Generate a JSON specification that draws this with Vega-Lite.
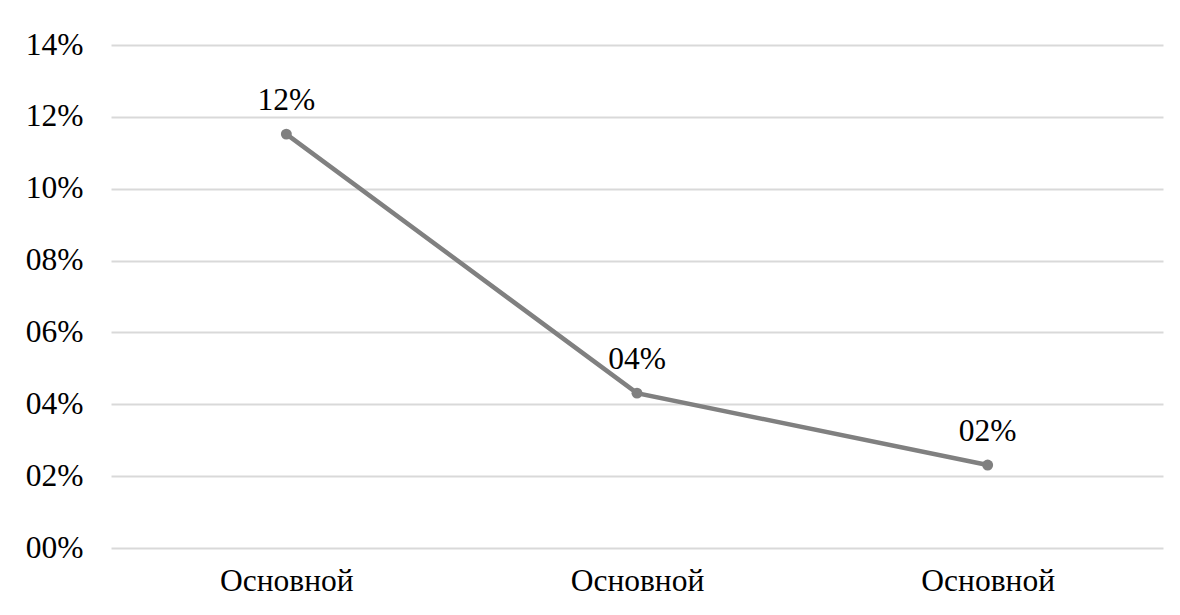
{
  "$schema": "https://vega.github.io/schema/vega-lite/v6.json",
  "width": 1052,
  "height": 503,
  "autosize": {"type": "none"},
  "padding": {"left": 111, "top": 45, "right": 17, "bottom": 67},
  "background": "white",
  "config": {
    "view": {"stroke": null},
    "font": "'Liberation Serif', 'Times New Roman', serif"
  },
  "data": {
    "values": [
      {"category": "Основной", "share": 0.1152},
      {"category": "Основной\u200b", "share": 0.0431},
      {"category": "Основной\u200b\u200b", "share": 0.0231}
    ]
  },
  "encoding": {
    "x": {
      "field": "category",
      "type": "ordinal",
      "sort": null,
      "scale": {"type": "point", "padding": 0.5},
      "axis": {
        "title": null,
        "labelAngle": 0,
        "ticks": false,
        "domain": false,
        "grid": false,
        "labelFont": "'Liberation Serif', 'Times New Roman', serif",
        "labelFontSize": 31.5,
        "labelColor": "#000000",
        "labelPadding": 17
      }
    },
    "y": {
      "field": "share",
      "type": "quantitative",
      "scale": {"domain": [0, 0.14], "nice": false},
      "axis": {
        "title": null,
        "values": [0, 0.02, 0.04, 0.06, 0.08, 0.1, 0.12, 0.14],
        "format": "03.0%",
        "ticks": false,
        "domain": false,
        "grid": true,
        "gridColor": "#d9d9d9",
        "gridWidth": 2,
        "labelFont": "'Liberation Serif', 'Times New Roman', serif",
        "labelFontSize": 31.5,
        "labelColor": "#000000",
        "labelPadding": 28
      }
    }
  },
  "layer": [
    {
      "mark": {"type": "line", "color": "#808080", "strokeWidth": 4.5}
    },
    {
      "mark": {"type": "point", "filled": true, "color": "#808080", "size": 120, "opacity": 1}
    },
    {
      "mark": {"type": "text", "fontSize": 31.5, "color": "#000000", "baseline": "alphabetic", "dy": -24, "font": "'Liberation Serif', 'Times New Roman', serif"},
      "encoding": {
        "text": {"field": "share", "type": "quantitative", "format": "03.0%"}
      }
    }
  ]
}
